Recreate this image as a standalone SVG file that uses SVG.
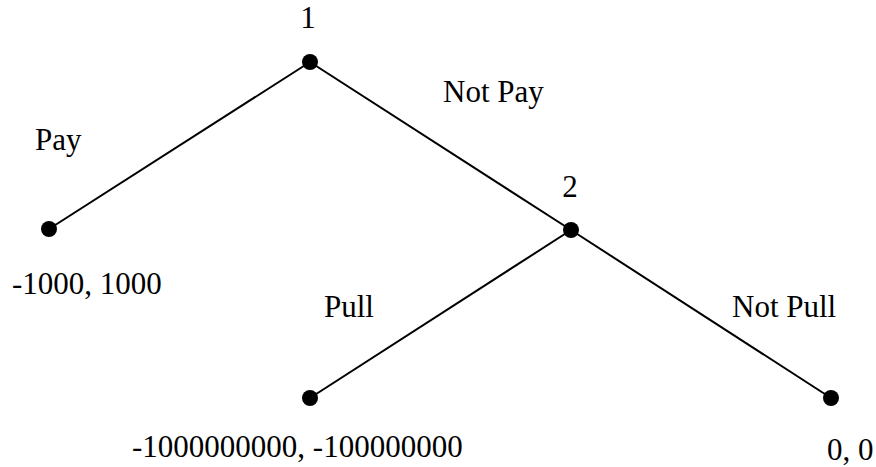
<svg xmlns="http://www.w3.org/2000/svg" width="876" height="467" viewBox="0 0 876 467">
<style>
text{font-family:"Liberation Serif","Times New Roman",serif;font-size:31px;fill:#000}
.e{stroke:#000;stroke-width:2;fill:none}
.d{fill:#000}
</style>
<rect width="876" height="467" fill="#fff"/>
<g id="edges">
<line class="e" x1="310" y1="62" x2="49" y2="229"/>
<line class="e" x1="310" y1="62" x2="571" y2="230"/>
<line class="e" x1="571" y1="230" x2="310" y2="398"/>
<line class="e" x1="571" y1="230" x2="831" y2="398"/>
</g>
<g id="n1"><circle class="d" cx="310" cy="62" r="8"/><text x="308" y="28" text-anchor="middle">1</text></g>
<g id="n2"><circle class="d" cx="571" cy="230" r="8"/><text x="570" y="197" text-anchor="middle">2</text></g>
<g id="leafPay"><circle class="d" cx="49" cy="229" r="8"/><text x="12" y="294">-1000, 1000</text></g>
<g id="leafPull"><circle class="d" cx="310" cy="398" r="8"/><text x="132" y="457">-1000000000, -100000000</text></g>
<g id="leafNotPull"><circle class="d" cx="831" cy="398" r="8"/><text x="827" y="460">0, 0</text></g>
<g id="labels">
<text x="35" y="150">Pay</text>
<text x="443" y="102">Not Pay</text>
<text x="324" y="317">Pull</text>
<text x="732" y="317">Not Pull</text>
</g>
</svg>
